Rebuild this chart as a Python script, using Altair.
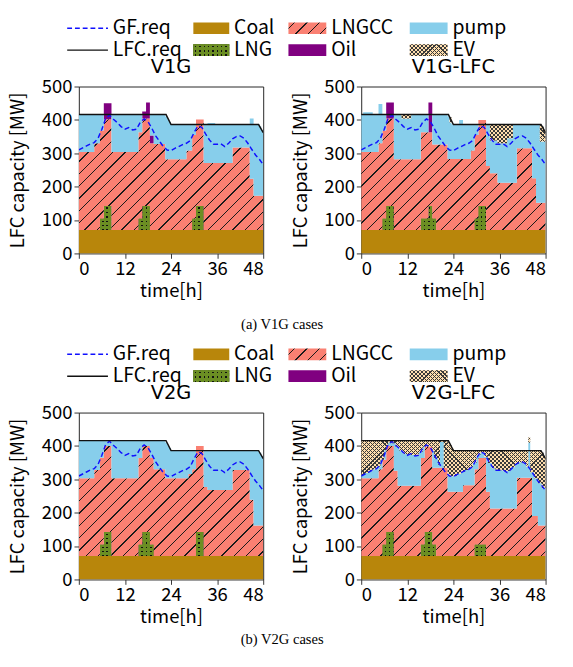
import math
import altair as alt
import pandas as pd

FONT = "Noto Sans CJK JP"
TITLE_FONT = "DejaVu Sans"
SERIF = "Liberation Serif"

# ------------------------------------------------------------------ data
HOURS = list(range(49))
GF_REQ = [310, 316, 322, 328, 332, 345, 372, 405, 414, 402, 392, 380, 372, 377,
          370, 372, 393, 403, 395, 375, 352, 336, 320, 310, 308, 315, 320, 326,
          330, 338, 362, 382, 378, 358, 340, 327, 327, 328, 320, 330, 343, 350,
          352, 345, 330, 312, 295, 282, 266]
LFC_T = [0, 22.7, 24, 46.8, 48]
LFC_REQ = [416, 416, 386, 386, 362]

# step series: (start hour, MW) pairs, value holds until the next start
V1G_COAL = [(0, 70)]
V1G_LNG = [(0, 0), (5.5, 35), (6.5, 72), (8.5, 0), (15.5, 35), (16.5, 72), (18.5, 0),
           (29.5, 35), (30.5, 72), (32.5, 0)]
V1G_LNGCC = [(0, 234), (4, 260), (5.5, 263), (6.5, 260), (8.5, 234), (15.5, 258), (16.5, 262),
             (18.5, 260), (19.5, 258), (22.5, 212), (28, 238), (29.5, 250), (30.5, 259),
             (32.5, 201), (40, 247), (44.5, 154), (45.5, 103)]
V1G_OIL = [(0, 0), (6.5, 48), (8.5, 0), (16.5, 21), (17.5, 48), (18.5, 23), (19.5, 0)]
V1G_PUMP = [(0, 111), (4, 85), (5.5, 47), (6.5, 0), (8.5, 111), (15.5, 52), (16.5, 0),
            (18.5, 62), (19.5, 87), (22.5, 128), (23, 120), (23.5, 112), (24, 105), (28, 79),
            (29.5, 32), (30.5, 0), (32.5, 116), (33.5, 120), (35.5, 116), (40, 70), (44.5, 180),
            (45.5, 214), (47, 207), (47.5, 197)]
V1G_EV = [(0, 0)]

V1GL_COAL = [(0, 70)]
V1GL_LNG = [(0, 0), (5.5, 35), (6.5, 72), (8.5, 0), (15.5, 35), (17.5, 72), (18.5, 35),
            (19.5, 0), (29.5, 35), (30.5, 72), (32.5, 0)]
V1GL_LNGCC = [(0, 234), (4.5, 260), (5.5, 263), (6.5, 262), (8.5, 212), (15.5, 258),
              (17.5, 221), (19.5, 256), (22.5, 213), (28.5, 238), (29.5, 250), (30.5, 258),
              (32.5, 192), (33.5, 170), (35.5, 142), (40.5, 245), (44.5, 155), (45.5, 82)]
V1GL_OIL = [(0, 0), (6.5, 48), (8.5, 0), (17.5, 89), (18.5, 0)]
V1GL_PUMP = [(0, 111), (0.5, 119), (3, 111), (4.5, 118), (5.5, 47), (6.5, 0), (8.5, 133),
             (10.5, 122), (13, 133), (15.5, 52), (17.5, 0), (18.5, 89), (22.5, 127), (23, 109),
             (23.5, 104), (25.5, 117), (26.5, 104), (28.5, 79), (29.5, 32), (30.5, 0),
             (32.5, 125), (33.5, 98), (35.5, 118), (38, 133), (39.5, 175), (40.5, 72),
             (44.5, 162), (45.5, 235), (46.5, 183)]
V1GL_EV = [(0, 0), (10.5, 12), (13, 0), (23, 16), (23.5, 0), (33.5, 49), (35.5, 57), (38, 42),
           (39.5, 0), (46.5, 50), (47, 45), (47.5, 35)]

V2G_COAL = [(0, 70)]
V2G_LNG = [(0, 0), (5.5, 35), (6.5, 72), (8.5, 0), (15.5, 35), (16.5, 72), (18.5, 35),
           (19.5, 0), (30.5, 72), (32.5, 0)]
V2G_LNGCC = [(0, 233), (4, 258), (5.5, 260), (6.5, 258), (8.5, 233), (15.5, 259), (16.5, 258),
             (18.5, 259), (19.5, 260), (22.5, 233), (28.5, 246), (29.5, 260), (30.5, 258),
             (32.5, 207), (33.5, 198), (40, 258), (44.5, 169), (45.5, 92)]
V2G_OIL = [(0, 0)]
V2G_PUMP = [(0, 112), (4, 87), (5.5, 50), (6.5, 15), (8.5, 112), (15.5, 51), (16.5, 15),
            (18.5, 51), (19.5, 85), (22.5, 107), (23, 99), (23.5, 91), (24, 82), (28.5, 69),
            (29.5, 55), (30.5, 0), (32.5, 108), (33.5, 117), (40, 57), (44.5, 146),
            (45.5, 223), (47, 218), (47.5, 208)]
V2G_EV = [(0, 0)]

V2GL_COAL = [(0, 70)]
V2GL_LNG = [(0, 0), (5.5, 35), (6.5, 72), (8.5, 0), (15.5, 35), (16.5, 72), (18.5, 35),
            (19.5, 0), (29.5, 35), (32.5, 0)]
V2GL_LNGCC = [(0, 233), (4.5, 260), (5.5, 254), (6.5, 258), (8.5, 256), (9.5, 211),
              (15.5, 259), (16.5, 256), (18.5, 230), (19.5, 265), (22.5, 193), (26.5, 212),
              (29.5, 225), (30.5, 259), (32.5, 193), (33.5, 143), (40.5, 235), (44.5, 120),
              (46, 92)]
V2GL_OIL = [(0, 0)]
V2GL_PUMP = [(0, 10), (1, 16), (2, 22), (3, 27), (4, 35), (4.5, 8), (5, 28), (5.5, 0), (6, 29),
             (6.5, 0), (7, 10), (8, 8), (8.5, 82), (9, 71), (9.5, 116), (10, 105), (11, 95),
             (12, 93), (13, 92), (14, 90), (15, 101), (15.5, 18), (16, 34), (16.5, 0),
             (18.5, 50), (19, 28), (20, 9), (20.5, 77), (21.5, 0), (22.5, 52), (23, 46),
             (24, 48), (25, 54), (26, 60), (26.5, 41), (27, 46), (28, 52), (29, 68),
             (29.5, 20), (30, 42), (30.5, 8), (31, 16), (32, 4), (32.5, 105), (33, 86),
             (33.5, 136), (34, 120), (35, 114), (37, 111), (38, 112), (39, 123), (40, 133),
             (40.5, 41), (41, 46), (42, 43), (43, 32), (43.5, 105), (44, 16), (44.5, 131),
             (45, 113), (46, 126), (47, 112)]
V2GL_EV = [(0, 102), (1, 96), (2, 90), (3, 85), (4, 77), (5, 57), (5.5, 56), (6, 27), (6.5, 15),
           (7, 5), (8, 7), (9, 18), (10, 29), (11, 39), (12, 41), (13, 42), (14, 44), (15, 33),
           (16, 17), (18.5, 30), (19, 52), (20, 71), (20.5, 3), (21.5, 80), (22.5, 95),
           (23, 93), (23.5, 85), (24, 74), (25, 68), (26, 62), (27, 57), (28, 51), (29, 35),
           (30, 13), (31, 5), (32, 17), (33, 36), (34, 52), (35, 58), (37, 61), (38, 60),
           (39, 49), (40, 39), (41, 34), (42, 37), (43, 48), (43.5, 15), (44, 64), (45, 82),
           (46, 97), (47, 106), (47.5, 96)]

SERIES = ["Coal", "LNG", "LNGCC", "Oil", "pump", "EV"]
PANELS = {
    "V1G": [V1G_COAL, V1G_LNG, V1G_LNGCC, V1G_OIL, V1G_PUMP, V1G_EV],
    "V1G-LFC": [V1GL_COAL, V1GL_LNG, V1GL_LNGCC, V1GL_OIL, V1GL_PUMP, V1GL_EV],
    "V2G": [V2G_COAL, V2G_LNG, V2G_LNGCC, V2G_OIL, V2G_PUMP, V2G_EV],
    "V2G-LFC": [V2GL_COAL, V2GL_LNG, V2GL_LNGCC, V2GL_OIL, V2GL_PUMP, V2GL_EV],
}

LEGEND_LEFT = [["GF.req", "LFC.req"], ["Coal", "LNG"]]
LEGEND_RIGHT = [["LNGCC", "Oil"], ["pump", "EV"]]
CAPTIONS = ["(a) V1G cases", "(b) V2G cases"]

# ------------------------------------------------------------------ style / layout
PW, PH = 190, 172
COL_GAP = 101
COAL_C = "#b8860b"
OLIVE = "#6b8e23"
SALMON = "#fa8072"
PURPLE = "#800080"
SKY = "#87ceeb"
EVC = "#ffdead"
CLEAR = "rgba(0,0,0,0)"

LEG_H = 69           # legend row height (cell), plot top follows right after
LEG_ROW_Y = [9, 31.5]
LEG_KEY_H = 12
LEG_LEFT_X0 = [-12, 118]
LEG_LEFT_W = [42, 37]
LEG_RIGHT_X0 = [-75, 50]
LEG_RIGHT_W = [39, 39]
CAP_X = 209.5        # caption centre relative to the left plot origin


def stripes(base, line, w, h, period, lw, direction):
    w = max(w, 1.0)
    h = max(h, 1.0)
    if direction in ("/", "\\"):
        a = (w + h) / (w * w + h * h)
        if direction == "/":
            x1, y1, x2, y2 = 0, 0, w * a, h * a
        else:
            x1, y1, x2, y2 = 0, 1, w * a, 1 - h * a
        span = w + h
        half = lw * math.sqrt(2) / 2
    elif direction == "h":
        x1, y1, x2, y2 = 0, 0, 0, 1
        span = h
        half = lw / 2
    else:
        x1, y1, x2, y2 = 0, 0, 1, 0
        span = w
        half = lw / 2
    stops = [alt.GradientStop(color=base, offset=0)]
    c = period / 2
    while c < span:
        lo = max(0.0, (c - half) / span)
        hi = min(1.0, (c + half) / span)
        stops += [alt.GradientStop(color=base, offset=round(lo, 5)),
                  alt.GradientStop(color=line, offset=round(lo, 5)),
                  alt.GradientStop(color=line, offset=round(hi, 5)),
                  alt.GradientStop(color=base, offset=round(hi, 5))]
        c += period
    stops.append(alt.GradientStop(color=base, offset=1))
    return alt.LinearGradient(gradient="linear", stops=stops,
                              x1=x1, y1=y1, x2=round(x2, 5), y2=round(y2, 5))


def fills(name, w, h):
    if name == "Coal":
        return [COAL_C]
    if name == "Oil":
        return [PURPLE]
    if name == "pump":
        return [SKY]
    if name == "LNGCC":
        return [stripes(SALMON, "#1a1a1a", w, h, 12.7, 1.0, "/")]
    if name == "LNG":
        return ["#111111",
                stripes(OLIVE, CLEAR, w, h, 4.5, 1.5, "h"),
                stripes(OLIVE, CLEAR, w, h, 4.5, 1.5, "v")]
    if name == "EV":
        return [stripes(EVC, "#3a3a3a", w, h, 4.2, 0.8, "/"),
                stripes(CLEAR, "#3a3a3a", w, h, 4.2, 0.8, "\\")]
    return ["gray"]


def value_at(seg, t):
    v = seg[0][1]
    for s, val in seg:
        if s <= t:
            v = val
    return v


def panel_times(series):
    return sorted({s for seg in series for s, _ in seg} | {48})


def panel_table(series):
    rows = []
    for t in panel_times(series):
        for k, name in enumerate(SERIES):
            rows.append({"t": t, "series": name, "order": k,
                         "value": value_at(series[k], t)})
    return pd.DataFrame(rows)


def extent(series, k):
    lo, hi = 1e9, -1e9
    for t in panel_times(series):
        vals = [value_at(seg, t) for seg in series]
        b = sum(vals[:k])
        lo = min(lo, b)
        hi = max(hi, b + vals[k])
    return lo, hi


XS = alt.Scale(domain=[0, 48], nice=False, zero=False)
YS = alt.Scale(domain=[0, 500], nice=False, zero=False)
XA = alt.Axis(values=[0, 12, 24, 36, 48], title="time[h]", grid=False, domain=False,
              tickSize=5, labelPadding=2, titlePadding=3)
YA = alt.Axis(values=[0, 100, 200, 300, 400, 500], title="LFC capacity [MW]", grid=False,
              domain=False, tickSize=5, labelPadding=2, titlePadding=14)
NOFRAME = alt.ViewBackground(stroke="transparent")


def panel(title):
    series = PANELS[title]
    base = alt.Chart(panel_table(series)).transform_stack(
        as_=["y0", "y1"], stack="value", groupby=["t"],
        sort=[alt.SortField("order", order="ascending")])
    layers = []
    for k, name in enumerate(SERIES):
        lo, hi = extent(series, k)
        hpx = (hi - lo) * PH / 500.0
        for f in fills(name, PW, hpx):
            layers.append(
                base.transform_filter(alt.datum.series == name)
                .mark_area(interpolate="step-after", color=f, opacity=1, clip=True)
                .encode(x=alt.X("t:Q", scale=XS, axis=XA),
                        y=alt.Y("y1:Q", scale=YS, axis=YA),
                        y2="y0:Q"))
    gf = alt.Chart(pd.DataFrame({"t": HOURS, "v": GF_REQ})).mark_line(
        color="#1010ff", strokeDash=[5, 3], strokeWidth=1.5, clip=True).encode(
        x=alt.X("t:Q", scale=XS, axis=XA), y=alt.Y("v:Q", scale=YS, axis=YA))
    lfc = alt.Chart(pd.DataFrame({"t": LFC_T, "v": LFC_REQ})).mark_line(
        color="#111111", strokeWidth=1.5, clip=True).encode(
        x=alt.X("t:Q", scale=XS, axis=XA), y=alt.Y("v:Q", scale=YS, axis=YA))
    return alt.layer(*layers, gf, lfc).properties(
        width=PW, height=PH,
        title=alt.Title(title, fontSize=20, font=TITLE_FONT, fontWeight="normal", offset=1,
                        color="black"))


def legend_cell(cols, x0s, widths):
    rows = []
    for c, pair in enumerate(cols):
        for r, lab in enumerate(pair):
            x0 = x0s[c]
            x1 = x0 + widths[c]
            yc = LEG_ROW_Y[r]
            rows.append({"label": lab, "x0": x0, "x1": x1, "yc": yc,
                         "y0": yc - LEG_KEY_H / 2, "y1": yc + LEG_KEY_H / 2, "tx": x1 + 5,
                         "w": widths[c]})
    df = pd.DataFrame(rows)
    xs = alt.Scale(domain=[0, PW], nice=False, zero=False)
    ys = alt.Scale(domain=[LEG_H, 0], nice=False, zero=False)
    b = alt.Chart(df)
    layers = []
    labels = list(df.label)
    if "GF.req" in labels:
        layers.append(b.transform_filter(alt.datum.label == "GF.req").mark_rule(
            color="#1010ff", strokeDash=[5, 3], strokeWidth=1.5).encode(
            x=alt.X("x0:Q", scale=xs, axis=None), x2="x1:Q",
            y=alt.Y("yc:Q", scale=ys, axis=None)))
        layers.append(b.transform_filter(alt.datum.label == "LFC.req").mark_rule(
            color="#111111", strokeWidth=1.5).encode(
            x=alt.X("x0:Q", scale=xs, axis=None), x2="x1:Q",
            y=alt.Y("yc:Q", scale=ys, axis=None)))
    for name in SERIES:
        if name not in labels:
            continue
        w = float(df.loc[df.label == name, "w"].iloc[0])
        for f in fills(name, w, LEG_KEY_H):
            layers.append(b.transform_filter(alt.datum.label == name).mark_rect(
                color=f, opacity=1).encode(
                x=alt.X("x0:Q", scale=xs, axis=None), x2="x1:Q",
                y=alt.Y("y0:Q", scale=ys, axis=None), y2="y1:Q"))
    layers.append(b.mark_text(align="left", baseline="middle", fontSize=20, font=FONT,
                              color="black").encode(
        x=alt.X("tx:Q", scale=xs, axis=None), y=alt.Y("yc:Q", scale=ys, axis=None),
        text="label:N"))
    return alt.layer(*layers).properties(width=PW, height=LEG_H, view=NOFRAME)


def text_cell(text, height, ymid):
    df = pd.DataFrame({"label": [text], "x": [CAP_X], "y": [ymid]})
    xs = alt.Scale(domain=[0, PW], nice=False, zero=False)
    ys = alt.Scale(domain=[height, 0], nice=False, zero=False)
    return alt.Chart(df).mark_text(align="center", baseline="middle", font=SERIF,
                                   fontSize=15, color="black").encode(
        x=alt.X("x:Q", scale=xs, axis=None), y=alt.Y("y:Q", scale=ys, axis=None),
        text="label:N").properties(width=PW, height=height, view=NOFRAME)


cells = [
    legend_cell(LEGEND_LEFT, LEG_LEFT_X0, LEG_LEFT_W),
    legend_cell(LEGEND_RIGHT, LEG_RIGHT_X0, LEG_RIGHT_W),
    panel("V1G"), panel("V1G-LFC"),
    text_cell(CAPTIONS[0], 95, 73), text_cell("", 95, 73),
    legend_cell(LEGEND_LEFT, LEG_LEFT_X0, LEG_LEFT_W),
    legend_cell(LEGEND_RIGHT, LEG_RIGHT_X0, LEG_RIGHT_W),
    panel("V2G"), panel("V2G-LFC"),
    text_cell(CAPTIONS[1], 56, 62), text_cell("", 56, 62),
]

chart = alt.concat(*cells, columns=2, bounds="flush",
                   spacing={"row": 0, "column": COL_GAP}).properties(
    padding={"left": 0, "top": 0, "right": 0, "bottom": 0}).configure_view(
    stroke="#222222", strokeWidth=1).configure_axis(
    labelFont=FONT, titleFont=FONT, labelFontSize=19, titleFontSize=19,
    titleFontWeight="normal", labelColor="black", titleColor="black", tickColor="#333333")

chart.save("out.html", embed_options={"renderer": "svg", "actions": False})
